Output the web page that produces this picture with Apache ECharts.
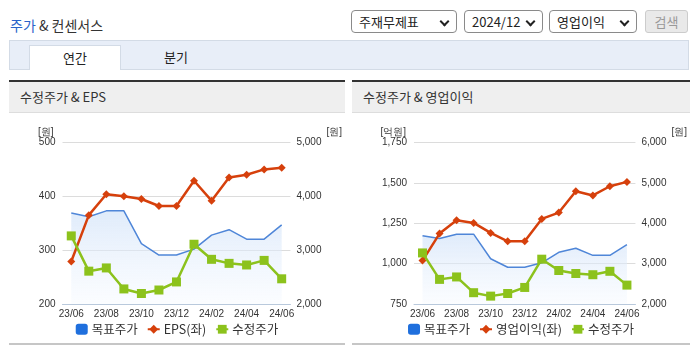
<!DOCTYPE html>
<html><head><meta charset="utf-8">
<script src="https://cdn.jsdelivr.net/npm/echarts@6/dist/echarts.min.js"></script>
<style>
html,body{margin:0;padding:0;background:#fff;width:695px;height:349px;overflow:hidden;font-family:"Noto Sans CJK KR","Noto Sans",sans-serif;}
.abs{position:absolute;}
#title{left:10px;top:15px;font-size:14px;color:#333;line-height:20px;}
#title b{font-weight:normal;color:#2a63c9;}
.sel{position:absolute;top:10px;height:21px;border:1px solid #8a8a8a;border-radius:4px;font-size:13px;line-height:21px;color:#222;box-sizing:content-box;background:#fff;}
.sel span{position:absolute;left:7px;}
.sel i{position:absolute;right:8px;top:7px;width:5px;height:5px;border-right:2px solid #222;border-bottom:2px solid #222;transform:rotate(45deg);}
#btn{position:absolute;left:645px;top:10px;width:41px;height:21px;border:1px solid #ccc;border-radius:3px;background:#e9e9e9;color:#999;font-size:13px;line-height:21px;text-align:center;}
#tabs{left:9px;top:40px;width:678px;height:28px;background:#e8eef8;border:1px solid #d3dbe6;}
#tab1{left:29px;top:45px;width:90px;height:24px;background:#fff;border:1px solid #d3dbe6;border-bottom:none;font-size:13px;line-height:24px;text-align:center;color:#222;}
#tab2{left:150px;top:45px;width:52px;height:24px;font-size:13px;line-height:24px;text-align:center;color:#222;}
.panel{position:absolute;top:80px;height:265px;}
.phead{position:absolute;left:0;top:0;right:0;height:30px;border-top:2px solid #333;border-bottom:1px solid #ddd;background:#efefef;font-size:13px;line-height:30px;color:#333;padding-left:11px;}
.pfoot{position:absolute;left:0;right:0;bottom:0;height:2px;background:#c6c6c6;}
.chart{position:absolute;left:0;top:34px;height:229px;}
</style></head>
<body>
<div id="title" class="abs"><b>주가</b> &amp; 컨센서스</div>
<div class="sel" style="left:351px;width:104px;"><span>주재무제표</span><i></i></div>
<div class="sel" style="left:464px;width:77px;"><span>2024/12</span><i></i></div>
<div class="sel" style="left:549px;width:86px;"><span>영업이익</span><i></i></div>
<div id="btn">검색</div>
<div id="tabs" class="abs"></div>
<div id="tab1" class="abs">연간</div>
<div id="tab2" class="abs">분기</div>

<div class="panel" style="left:9px;width:336px;">
  <div class="phead">수정주가 &amp; EPS</div>
  <div id="c1" class="chart" style="width:336px;"></div>
  <div class="pfoot"></div>
</div>
<div class="panel" style="left:352px;width:338px;">
  <div class="phead">수정주가 &amp; 영업이익</div>
  <div id="c2" class="chart" style="width:338px;"></div>
  <div class="pfoot"></div>
</div>

<script>
// ---- data ----
const categories = ['23/06','23/07','23/08','23/09','23/10','23/11','23/12','24/01','24/02','24/03','24/04','24/05','24/06'];
const targetPrice = [3690, 3620, 3730, 3730, 3120, 2910, 2910, 3020, 3280, 3380, 3205, 3205, 3470];
const adjPrice = [3265, 2610, 2670, 2280, 2195, 2260, 2410, 3110, 2830, 2755, 2725, 2810, 2468];
const eps = [279, 365, 404, 400, 395, 382, 382, 429, 392, 435, 440, 450, 453];
const opProfit = [1019, 1186, 1269, 1252, 1190, 1138, 1138, 1277, 1316, 1448, 1422, 1479, 1506];

const leftTicks1 = {min:200, max:500, interval:100};
const rightTicks1 = {min:2000, max:5000, interval:1000};
const leftTicks2 = {min:750, max:1750, interval:250};
const rightTicks2 = {min:2000, max:6000, interval:1000};

const BLUE_LINE = '#4f86d8', BLUE_ICON = '#1f6fdd', RED = '#d6400c', GREEN = '#8cc21c';
const FONT = '"Liberation Sans", Arial, sans-serif';
const fmt = v => v.toLocaleString('en-US');

function build(el, leftAxis, rightAxis, leftSeriesName, leftData, gridLeft, gridRight, leftNamePad, rightNamePad, leftName) {
  const chart = echarts.init(document.getElementById(el), null, {renderer:'canvas'});
  chart.setOption({
    animation:false,
    grid:{left:gridLeft, right:gridRight, top:28.5, height:161.5},
    legend:{
      top:204, left:'center', itemWidth:12, itemHeight:11, itemGap:9,
      textStyle:{fontSize:12.5, color:'#333', fontFamily:'"Noto Sans CJK KR", sans-serif', padding:[0,0,0,-1]},
      data:[
        {name:'목표주가', icon:'roundRect', itemStyle:{color:BLUE_ICON}},
        {name:leftSeriesName},
        {name:'수정주가'}
      ]
    },
    xAxis:{
      type:'category', data:categories, boundaryGap:true,
      axisLine:{lineStyle:{color:'#b9c9dc'}},
      axisTick:{length:4, lineStyle:{color:'#b9c9dc'}, interval:(i)=> i===0 || i%2===1},
      axisLabel:{interval:1, margin:5, fontSize:10, color:'#333', fontFamily:FONT},
      splitLine:{show:false}
    },
    yAxis:[
      {type:'value', min:leftAxis.min, max:leftAxis.max, interval:leftAxis.interval, position:'left',
       name:leftName, nameLocation:'end', nameGap:5,
       nameTextStyle:{align:'right', padding:[0,leftNamePad,0,0], fontSize:10, color:'#333', fontFamily:FONT},
       axisLine:{show:false}, axisTick:{show:false},
       axisLabel:{margin:7, fontSize:10, color:'#333', fontFamily:FONT, formatter:fmt},
       splitLine:{lineStyle:{color:'#dcdcdc'}}},
      {type:'value', min:rightAxis.min, max:rightAxis.max, interval:rightAxis.interval, position:'right',
       name:'[원]', nameLocation:'end', nameGap:5,
       nameTextStyle:{align:'left', padding:[0,0,0,rightNamePad], fontSize:10, color:'#333', fontFamily:FONT},
       axisLine:{show:false}, axisTick:{show:false},
       axisLabel:{margin:6, fontSize:10, color:'#333', fontFamily:FONT, formatter:fmt},
       splitLine:{show:false}}
    ],
    series:[
      {name:'목표주가', type:'line', yAxisIndex:1, data:targetPrice, symbol:'none',
       lineStyle:{color:BLUE_LINE, width:1.5}, itemStyle:{color:BLUE_LINE},
       areaStyle:{color:new echarts.graphic.LinearGradient(0,0,0,1,[
         {offset:0, color:'rgba(205,224,248,0.9)'},{offset:1, color:'rgba(245,249,255,0.6)'}])},
       z:1},
      {name:leftSeriesName, type:'line', yAxisIndex:0, data:leftData, symbol:'diamond', symbolSize:8,
       lineStyle:{color:RED, width:2.5}, itemStyle:{color:RED}, z:2},
      {name:'수정주가', type:'line', yAxisIndex:1, data:adjPrice, symbol:'rect', symbolSize:9,
       lineStyle:{color:GREEN, width:2.5}, itemStyle:{color:GREEN}, z:3}
    ]
  });
}

build('c1', leftTicks1, rightTicks1, 'EPS(좌)', eps, 53.5, 53, 9, 36, '[원]');
build('c2', leftTicks2, rightTicks2, '영업이익(좌)', opProfit, 62, 54, 8, 36, '[억원]');
</script>
</body></html>
